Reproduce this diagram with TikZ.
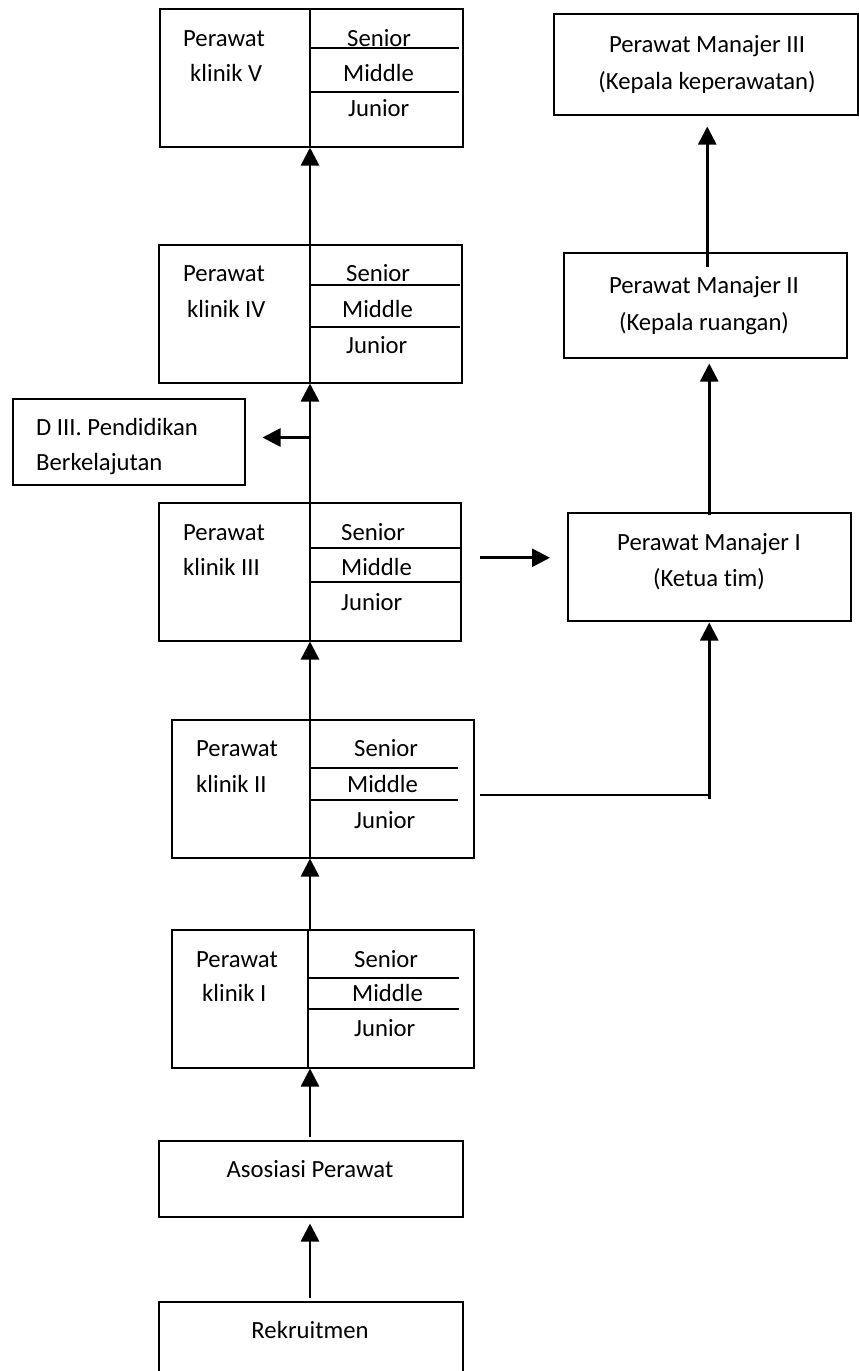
\documentclass[tikz,border=0pt]{standalone}
\usepackage{fontspec}
\setmainfont{Carlito}[Ligatures={NoCommon}]
\usetikzlibrary{arrows.meta,calc}
\tikzset{
  box/.style={draw, line width=1.5pt, inner sep=0pt, anchor=north west},
  sep/.style={line width=1.4pt},
  lbl/.style={inner sep=0pt, text height=16pt, text depth=0pt, font=\fontsize{24.7}{30}\selectfont},
  arr/.style={line width=2.7pt, -{Triangle[length=18pt,width=18pt]}},
  plain/.style={line width=1.8pt}
}
\begin{document}
\begin{tikzpicture}[x=1pt,y=-1pt]
\useasboundingbox[fill=white] (0,0) rectangle (859,1371);
\coordinate (col) at (310,0);
% ---- clinical boxes (left column)
\node[box, minimum width=303pt, minimum height=138pt] (k5) at (159,8) {};
\node[box, minimum width=303pt, minimum height=138pt] (k4) at (158,244) {};
\node[box, minimum width=302pt, minimum height=138pt] (k3) at (158,502) {};
\node[box, minimum width=302pt, minimum height=138pt] (k2) at (171,719) {};
\node[box, minimum width=302pt, minimum height=138pt] (k1) at (171,929) {};
\node[box, minimum width=304pt, minimum height=76pt] (as) at (158,1140) {};
\node[box, minimum width=304pt, minimum height=80pt] (rk) at (158,1301) {};
\node[box, minimum width=232pt, minimum height=86pt] (d3) at (12,398) {};
% ---- manager boxes (right column)
\node[box, minimum width=304pt, minimum height=101pt] (m3) at (553,13) {};
\node[box, minimum width=283pt, minimum height=105pt] (m2) at (563,252) {};
\node[box, minimum width=283pt, minimum height=108pt] (m1) at (567,512) {};
% ---- inner dividers
\draw[sep] (310,8) -- (310,146);
\draw[sep] (310,48) -- (459,48);
\draw[sep] (310,92) -- (459,92);
\draw[sep] (310,244) -- (310,382);
\draw[sep] (310,285) -- (460,285);
\draw[sep] (310,327) -- (460,327);
\draw[sep] (310,502) -- (310,640);
\draw[sep] (310,548) -- (460,548);
\draw[sep] (310,582) -- (460,582);
\draw[sep] (310,719) -- (310,857);
\draw[sep] (310,768) -- (458,768);
\draw[sep] (310,800) -- (458,800);
\draw[sep] (308,929) -- (308,1067);
\draw[sep] (308,978) -- (459,978);
\draw[sep] (308,1009) -- (459,1009);
% ---- texts box V
\node[lbl, anchor=west] (t5a) at (183,38) {Perawat};
\node[lbl, anchor=west] (t5b) at (190,73) {klinik V};
\node[lbl, anchor=west] (t5s) at (347,38) {Senior};
\node[lbl, anchor=west] (t5m) at (343,73) {Middle};
\node[lbl, anchor=west] (t5j) at (348,108) {Junior};
% box IV
\node[lbl, anchor=west] (t4a) at (183,273) {Perawat};
\node[lbl, anchor=west] (t4b) at (187,309) {klinik IV};
\node[lbl, anchor=west] (t4s) at (346,273) {Senior};
\node[lbl, anchor=west] (t4m) at (342,309) {Middle};
\node[lbl, anchor=west] (t4j) at (346,345) {Junior};
% box III
\node[lbl, anchor=west] (t3a) at (183,532) {Perawat};
\node[lbl, anchor=west] (t3b) at (183,567) {klinik III};
\node[lbl, anchor=west] (t3s) at (341,532) {Senior};
\node[lbl, anchor=west] (t3m) at (341,567) {Middle};
\node[lbl, anchor=west] (t3j) at (341,602) {Junior};
% box II
\node[lbl, anchor=west] (t2a) at (196,748) {Perawat};
\node[lbl, anchor=west] (t2b) at (196,784) {klinik II};
\node[lbl, anchor=west] (t2s) at (354,748) {Senior};
\node[lbl, anchor=west] (t2m) at (347,784) {Middle};
\node[lbl, anchor=west] (t2j) at (354,820) {Junior};
% box I
\node[lbl, anchor=west] (t1a) at (196,959) {Perawat};
\node[lbl, anchor=west] (t1b) at (202,993) {klinik I};
\node[lbl, anchor=west] (t1s) at (354,959) {Senior};
\node[lbl, anchor=west] (t1m) at (352,993) {Middle};
\node[lbl, anchor=west] (t1j) at (354,1028) {Junior};
% others
\node[lbl] (tas) at (310,1169) {Asosiasi Perawat};
\node[lbl] (trk) at (310,1330) {Rekruitmen};
\node[lbl, anchor=west] (td1) at (36,427) {D III. Pendidikan};
\node[lbl, anchor=west] (td2) at (36,462) {Berkelajutan};
\node[lbl] (tm3a) at (707,44) {Perawat Manajer III};
\node[lbl] (tm3b) at (707,81) {(Kepala keperawatan)};
\node[lbl] (tm2a) at (704,285) {Perawat Manajer II};
\node[lbl] (tm2b) at (704,322) {(Kepala ruangan)};
\node[lbl] (tm1a) at (709,542) {Perawat Manajer I};
\node[lbl] (tm1b) at (709,578) {(Ketua tim)};
% ---- connectors, left column
\draw[arr] (k4.north -| col) -- (k5.south -| col);
\draw[arr] (k3.north -| col) -- (k4.south -| col);
\coordinate (br) at ($(k4.south -| col)+(0,54)$);
\draw[arr] (br) -- ($(br -| d3.east)+(17,0)$);
\draw[arr] (k2.north -| col) -- (k3.south -| col);
\draw[arr] (k1.north -| col) -- (k2.south -| col);
\draw[arr] ($(as.north -| col)+(0,-3)$) -- (k1.south -| col);
\draw[arr] ($(rk.north -| col)+(0,-3)$) -- ($(as.south -| col)+(0,6)$);
% ---- connectors to managers
\coordinate (c3) at ($(k3.east)+(18,-14)$);
\draw[arr] (c3) -- ($(c3 -| m1.west)+(-17,0)$);
\coordinate (c2) at ($(k2.east)+(5,6)$);
\coordinate (c2b) at (c2 -| m1.south);
\draw[plain] (c2) -- (c2b);
\draw[arr] ($(c2b)+(0,4)$) -- ($(m1.south)+(0,1)$);
\draw[arr] ($(m1.north)+(0,3)$) -- ($(m1.north |- m2.south)+(0,5)$);
\draw[arr] ($(m2.north)+(2,15)$) -- ($(m2.north |- m3.south)+(2,11)$);
\end{tikzpicture}
\end{document}
